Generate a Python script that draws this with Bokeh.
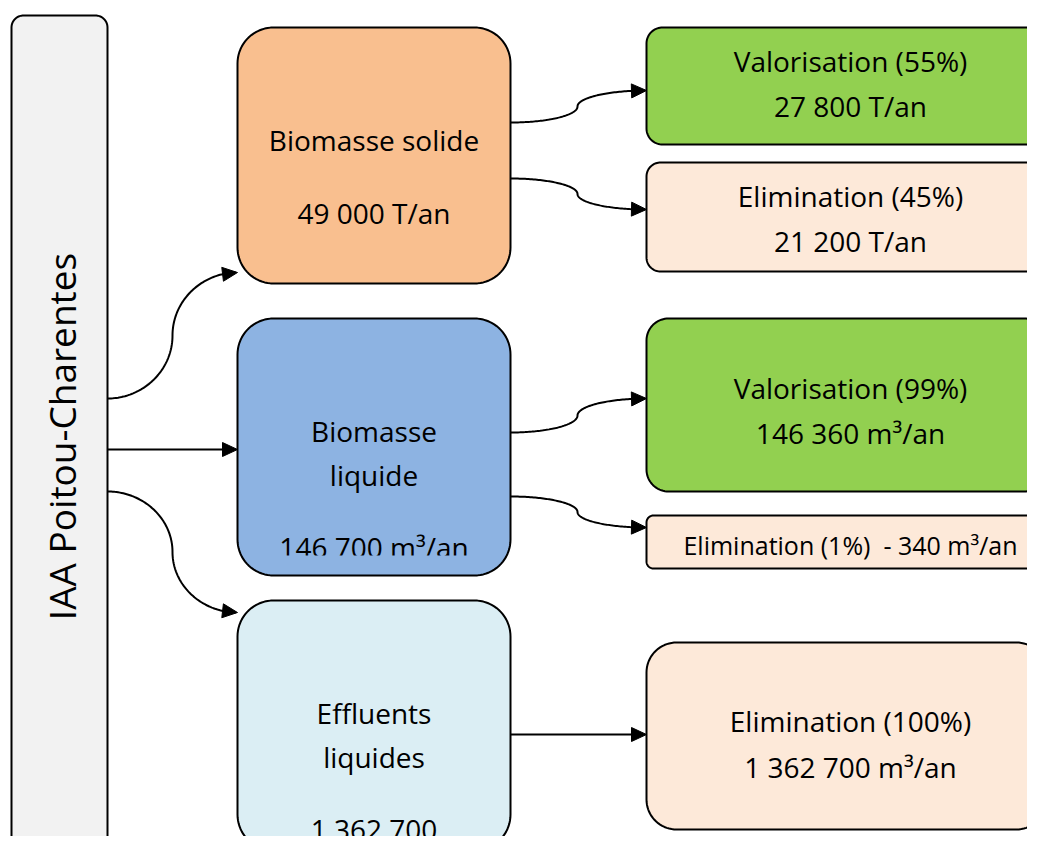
import numpy as np
from bokeh.plotting import figure
from bokeh.models import Range1d
from bokeh.core.properties import value
from bokeh.embed import file_html
from bokeh.resources import INLINE

# ---------------- data ----------------
source_label = "IAA Poitou-Charentes"
stream_lines = [["Biomasse solide"], ["Biomasse", "liquide"], ["Effluents", "liquides"]]
stream_quantities = ["49 000 T/an", "146 700 m³/an", "1 362 700"]
outcome_labels = ["Valorisation (55%)", "Elimination (45%)", "Valorisation (99%)",
                  "Elimination (1%)\u00a0 - 340 m³/an", "Elimination (100%)"]
outcome_quantities = ["27 800 T/an", "21 200 T/an", "146 360 m³/an", "", "1 362 700 m³/an"]
outcome_kind = ["valorisation", "elimination", "valorisation", "elimination", "elimination"]
outcome_stream = [0, 0, 1, 1, 2]

# ---------------- layout (page pixel coords, y down) ----------------
FONT = value("Open Sans")
TEXT_DY = -2
src_box = (11, 15, 107, 850, 12)
src_text_xy = (61, 436)
stream_x = (237, 510)
stream_y = [(27, 283), (318, 575), (600, 850)]
stream_r = 36
stream_line_y = [[141], [432, 476], [714, 758]]
stream_qty_y = [214, 548, 830]
stream_clip_y = [None, 555, 836]
stream_fill = ["#F9BF8F", "#8DB3E2", "#DBEEF4"]
out_x = (646, 1046)
out_y = [(27, 144), (162, 271), (318, 491), (515, 568), (642, 829)]
out_r = [16, 14, 22, 7, 30]
out_label_y = [62, 197, 389, 546, 722]
out_qty_y = [107, 242, 434, None, 768]
out_font = ["28px", "28px", "28px", "25px", "28px"]
kind_fill = {"valorisation": "#92D050", "elimination": "#FDE9D9"}
src_conn_start_y = [398, 449, 491]
src_conn_end_y = [272, 449, 612]
src_conn_x = (107, 172, 237)
out_conn_start_y = [122, 178, 432, 496, 734]
out_conn_end_y = [90, 209, 398, 527, 734]
out_conn_x = (510, 577, 646)


def rrect(x0, y0, x1, y1, r, n=20):
    xs, ys = [], []
    for cx, cy, a0 in [(x1 - r, y0 + r, -np.pi / 2), (x1 - r, y1 - r, 0.0),
                       (x0 + r, y1 - r, np.pi / 2), (x0 + r, y0 + r, np.pi)]:
        t = np.linspace(a0, a0 + np.pi / 2, n)
        xs.extend(cx + r * np.cos(t))
        ys.extend(cy + r * np.sin(t))
    return list(xs), list(ys)


def clip_below(xs, ys, c):
    out_x, out_y = [], []
    n = len(xs)
    for i in range(n):
        ax, ay = xs[i - 1], ys[i - 1]
        bx, by = xs[i], ys[i]
        a_in, b_in = ay >= c, by >= c
        if b_in:
            if not a_in:
                t = (c - ay) / (by - ay)
                out_x.append(ax + t * (bx - ax)); out_y.append(c)
            out_x.append(bx); out_y.append(by)
        elif a_in:
            t = (c - ay) / (by - ay)
            out_x.append(ax + t * (bx - ax)); out_y.append(c)
    return out_x, out_y


def connector(sx, sy, mx, ex, ey, k=0.55, n=60):
    if sy == ey:
        return np.array([sx, ex], float), np.array([sy, ey], float)
    my = (sy + ey) / 2.0
    t = np.linspace(0, 1, n)[:, None]

    def cub(p0, p1, p2, p3):
        p0, p1, p2, p3 = map(np.array, (p0, p1, p2, p3))
        return ((1 - t) ** 3) * p0 + 3 * ((1 - t) ** 2) * t * p1 + 3 * (1 - t) * t ** 2 * p2 + t ** 3 * p3
    s1 = cub((sx, sy), (sx + k * (mx - sx), sy), (mx, my + k * (sy - my)), (mx, my))
    s2 = cub((mx, my), (mx, my + k * (ey - my)), (ex - k * (ex - mx), ey), (ex, ey))
    pts = np.vstack([s1, s2[1:]])
    return pts[:, 0], pts[:, 1]


def arrowhead(xs, ys, L=15, hw=7):
    tx, ty = xs[-1], ys[-1]
    d = np.hypot(xs - tx, ys - ty)
    idx = np.where(d >= L)[0]
    j = idx[-1] if len(idx) else 0
    ux, uy = tx - xs[j], ty - ys[j]
    nrm = np.hypot(ux, uy); ux, uy = ux / nrm, uy / nrm
    bx, by = tx - L * ux, ty - L * uy
    return [tx, bx - hw * uy, bx + hw * uy], [ty, by + hw * ux, by - hw * ux]


p = figure(width=1027, height=836, x_range=Range1d(0, 1027), y_range=Range1d(836, 0),
           output_backend="svg", toolbar_location=None, x_axis_location=None,
           y_axis_location=None, min_border=0, outline_line_color=None,
           background_fill_color="white", border_fill_color="white")
p.grid.visible = False

# ---------------- connectors ----------------
lines_x, lines_y, heads_x, heads_y = [], [], [], []
for sy, ey in zip(src_conn_start_y, src_conn_end_y):
    cx, cy = connector(src_conn_x[0], sy, src_conn_x[1], src_conn_x[2], ey)
    lines_x.append(list(cx[:-1]) + [cx[-1] - 6]); lines_y.append(list(cy))
    hx, hy = arrowhead(cx, cy); heads_x.append(hx); heads_y.append(hy)
for sy, ey in zip(out_conn_start_y, out_conn_end_y):
    cx, cy = connector(out_conn_x[0], sy, out_conn_x[1], out_conn_x[2], ey)
    lines_x.append(list(cx[:-1]) + [cx[-1] - 6]); lines_y.append(list(cy))
    hx, hy = arrowhead(cx, cy); heads_x.append(hx); heads_y.append(hy)
p.multi_line(lines_x, lines_y, line_color="black", line_width=2)
p.patches(heads_x, heads_y, fill_color="black", line_color="black", line_width=1)

# ---------------- boxes ----------------
outline_x, outline_y = [], []

bx, by = rrect(*src_box)
p.patch(bx, by, fill_color="#F2F2F2", line_color=None)
outline_x.append(bx); outline_y.append(by)

for i, (y0, y1) in enumerate(stream_y):
    bx, by = rrect(stream_x[0], y0, stream_x[1], y1, stream_r)
    p.patch(bx, by, fill_color=stream_fill[i], line_color=None)
    outline_x.append(bx); outline_y.append(by)

for i, (y0, y1) in enumerate(out_y):
    bx, by = rrect(out_x[0], y0, out_x[1], y1, out_r[i])
    p.patch(bx, by, fill_color=kind_fill[outcome_kind[i]], line_color=None)
    outline_x.append(bx); outline_y.append(by)

# ---------------- texts ----------------
p.text(x=[src_text_xy[0]], y=[src_text_xy[1]], text=[source_label], angle=np.pi / 2,
       text_font=FONT, text_font_size="37px", text_align="center",
       text_baseline="middle", text_color="black")

cx_stream = (stream_x[0] + stream_x[1]) / 2
for i, lines in enumerate(stream_lines):
    p.text(x=[cx_stream] * len(lines), y=[v + TEXT_DY for v in stream_line_y[i]], text=lines,
           text_font=FONT, text_font_size="28px", text_align="center",
           text_baseline="middle", text_color="black")
    p.text(x=[cx_stream], y=[stream_qty_y[i] + TEXT_DY], text=[stream_quantities[i]],
           text_font=FONT, text_font_size="28px", text_align="center",
           text_baseline="middle", text_color="black")
    if stream_clip_y[i] is not None:
        y0, y1 = stream_y[i]
        bx, by = rrect(stream_x[0], y0, stream_x[1], y1, stream_r)
        kx, ky = clip_below(bx, by, stream_clip_y[i])
        p.patch(kx, ky, fill_color=stream_fill[i], line_color=None)

cx_out = 850
for i, lab in enumerate(outcome_labels):
    p.text(x=[cx_out], y=[out_label_y[i] + TEXT_DY], text=[lab], text_font=FONT,
           text_font_size=out_font[i], text_align="center", text_baseline="middle",
           text_color="black")
    if outcome_quantities[i]:
        p.text(x=[cx_out], y=[out_qty_y[i] + TEXT_DY], text=[outcome_quantities[i]],
               text_font=FONT, text_font_size=out_font[i], text_align="center",
               text_baseline="middle", text_color="black")

p.patches(outline_x, outline_y, fill_color=None, line_color="black", line_width=2)

open("out.html", "w").write(file_html(p, INLINE))
